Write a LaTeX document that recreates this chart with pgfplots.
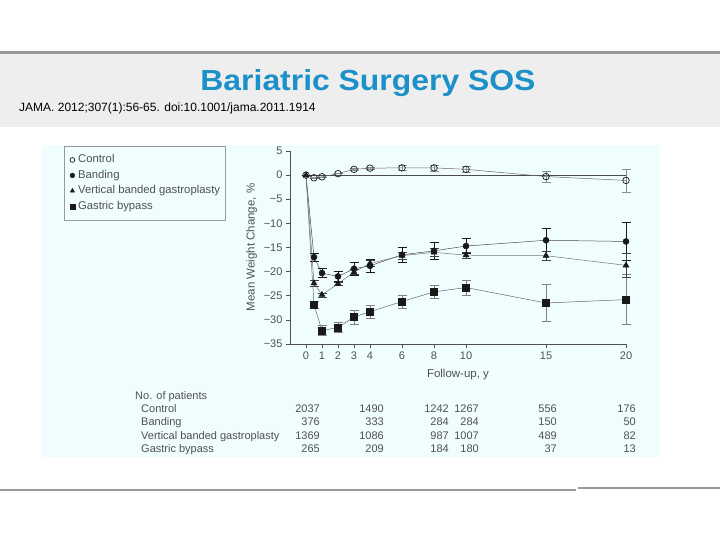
\documentclass[border=0pt]{standalone}
\usepackage{fontspec}
\setmainfont{Liberation Sans}
\usepackage{graphicx}
\usepackage{pgfplots}
\pgfplotsset{compat=1.18}
\usepackage{pgfplotstable}
\definecolor{bgc}{RGB}{240,253,255}
\definecolor{titleblue}{RGB}{28,144,200}
\definecolor{bandc}{RGB}{238,238,238}
\definecolor{rulec}{RGB}{153,153,153}
\definecolor{txt}{RGB}{80,80,80}
\definecolor{ink}{RGB}{25,25,25}

\pgfplotstableread{
x y e
0 0 0
0.5 -0.55 0
1 -0.35 0
2 0.3 0
3 1.2 0.2
4 1.45 0.2
6 1.5 0.5
8 1.5 0.6
10 1.2 0.6
15 -0.3 1.1
20 -1.1 2.35
}\control
\pgfplotstableread{
x y e
0 0 0
0.5 -17.0 0.8
1 -20.3 1.0
2 -21.0 1.0
3 -19.4 1.3
4 -18.8 1.4
6 -16.5 1.6
8 -15.7 1.7
10 -14.7 1.6
15 -13.5 2.4
20 -13.75 3.9
}\banding
\pgfplotstableread{
x y e
0 0 0
0.5 -22.4 0.6
1 -24.8 0.4
2 -22.5 0.4
3 -20.1 0.5
4 -18.3 0.6
6 -16.7 0.8
8 -16.0 0.8
10 -16.6 0.7
15 -16.7 1.0
20 -18.7 2.5
}\vbg
\pgfplotstableread{
x y e
0 0 0
0.5 -26.9 0.7
1 -32.2 1.0
2 -31.6 1.05
3 -29.4 1.4
4 -28.3 1.3
6 -26.2 1.3
8 -24.2 1.3
10 -23.3 1.5
15 -26.5 3.85
20 -25.8 5.2
}\bypass

\begin{document}
\begin{tikzpicture}
\begin{scope}[x=1pt,y=1pt]
\useasboundingbox (0,0) rectangle (720,540);
\fill[white] (0,0) rectangle (720,540);
\fill[bandc] (0,413) rectangle (720,486);
\fill[rulec] (0,486) rectangle (720,489);
\node[anchor=base, text=titleblue, inner sep=0pt, font=\fontsize{29}{34}\selectfont\bfseries] at (368,449) {\scalebox{1.1}[1]{Bariatric Surgery SOS}};
\node[anchor=base west, inner sep=0pt, font=\fontsize{12}{14}\selectfont] at (19,428.5) {JAMA. 2012;307(1):56-65. doi:10.1001/jama.2011.1914};
\fill[bgc] (42,83) rectangle (660,395);
\fill[rulec] (0,49) rectangle (576,51);
\fill[rulec] (578,51) rectangle (720,53);
\end{scope}

\begin{axis}[
  at={(290pt,196pt)}, anchor=south west, scale only axis,
  width=336pt, height=193pt,
  xmin=-1, xmax=20, ymin=-35, ymax=5,
  axis x line*=bottom, axis y line*=left,
  axis line style={draw=txt, line width=0.6pt},
  tick align=outside, major tick length=4pt,
  tick style={draw=txt, line width=0.6pt},
  xtick={0,1,2,3,4,6,8,10,15,20},
  xticklabels={0,1,2,3,4,6,8,10,15,20},
  ytick={-35,-30,-25,-20,-15,-10,-5,0,5},
  yticklabels={−35,−30,−25,−20,−15,−10,−5,0,5},
  ticklabel style={font=\fontsize{11}{13}\selectfont, text=txt},
  xlabel={Follow-up, y}, ylabel={Mean Weight Change, \%},
  label style={font=\fontsize{11.5}{13}\selectfont, text=txt},
  xlabel style={yshift=-3pt},
  clip=false,
  legend cell align=left,
  legend style={at={(-0.6726,1.0259)}, anchor=north west, draw=rulec, fill=bgc,
    font=\fontsize{11.3}{13}\selectfont, text=txt, inner xsep=4pt, inner ysep=7pt,
    row sep=2pt, column sep=0pt, nodes={inner sep=1.5pt, text height=8pt, text depth=2.5pt}},
  legend image code/.code={\path (0pt,0pt) (8pt,0pt); \draw[#1] plot coordinates {(4pt,0pt)};},
]
\addlegendimage{only marks, mark=o, mark size=2.4pt, mark options={draw=ink, fill=white, line width=0.7pt}}
\addlegendentry{Control}
\addlegendimage{only marks, mark=*, mark size=2.4pt, mark options={draw=ink, fill=ink}}
\addlegendentry{Banding}
\addlegendimage{only marks, mark=triangle*, mark size=2.6pt, mark options={draw=ink, fill=ink}}
\addlegendentry{Vertical banded gastroplasty\hspace{6pt}}
\addlegendimage{only marks, mark=square*, mark size=2.4pt, mark options={draw=ink, fill=ink}}
\addlegendentry{Gastric bypass}

\addplot[forget plot, draw=black!70, line width=0.6pt] coordinates {(0,0) (20,0)};

\addplot[forget plot, draw=black!60, line width=0.5pt,
  mark=square*, mark size=3.7pt, mark options={draw=ink, fill=ink},
  mark indices={2,3,4,5,6,7,8,9,10,11},
  error bars/.cd, y dir=both, y explicit,
  error bar style={draw=black!50, line width=0.5pt},
  error mark options={draw=black!50, mark size=4.5pt, rotate=90}]
  table[x=x, y=y, y error=e] {\bypass};

\addplot[forget plot, draw=black!70, line width=0.5pt,
  mark=*, mark size=3pt, mark options={draw=ink, fill=ink},
  mark indices={2,3,4,5,6,7,8,9,10,11},
  error bars/.cd, y dir=both, y explicit,
  error bar style={draw=ink, line width=0.8pt},
  error mark options={draw=ink, mark size=4.5pt, rotate=90, line width=0.8pt}]
  table[x=x, y=y, y error=e] {\banding};

\addplot[forget plot, draw=black!60, line width=0.5pt,
  mark=o, mark size=3.3pt, mark options={draw=ink, fill=white, line width=0.7pt},
  error bars/.cd, y dir=both, y explicit,
  error bar style={draw=black!45, line width=0.5pt},
  error mark options={draw=black!45, mark size=4.5pt, rotate=90}]
  table[x=x, y=y, y error=e] {\control};

\addplot[forget plot, draw=black!55, line width=0.5pt,
  mark=triangle*, mark size=3.4pt, mark options={draw=ink, fill=ink},
  error bars/.cd, y dir=both, y explicit,
  error bar style={draw=black!75, line width=0.6pt},
  error mark options={draw=black!75, mark size=4.5pt, rotate=90}]
  table[x=x, y=y, y error=e] {\vbg};
\end{axis}

\begin{scope}[x=1pt,y=1pt,font=\fontsize{11}{13}\selectfont, text=txt]
\node[anchor=mid west, inner sep=0pt] at (135,143) {No. of patients};
\node[anchor=mid west, inner sep=0pt] at (141,130) {Control};
\node[anchor=mid west, inner sep=0pt] at (141,117) {Banding};
\node[anchor=mid west, inner sep=0pt] at (141,103) {Vertical banded gastroplasty};
\node[anchor=mid west, inner sep=0pt] at (141,90) {Gastric bypass};
\foreach \r/\a/\b/\c/\d/\e/\f in {130/2037/1490/1242/1267/556/176, 117/376/333/284/284/150/50, 103/1369/1086/987/1007/489/82, 90/265/209/184/180/37/13}{
  \node[anchor=mid east, inner sep=0pt] at (320,\r) {\a};
  \node[anchor=mid east, inner sep=0pt] at (384,\r) {\b};
  \node[anchor=mid east, inner sep=0pt] at (449,\r) {\c};
  \node[anchor=mid east, inner sep=0pt] at (479,\r) {\d};
  \node[anchor=mid east, inner sep=0pt] at (557,\r) {\e};
  \node[anchor=mid east, inner sep=0pt] at (636,\r) {\f};
}
\end{scope}
\end{tikzpicture}
\end{document}
